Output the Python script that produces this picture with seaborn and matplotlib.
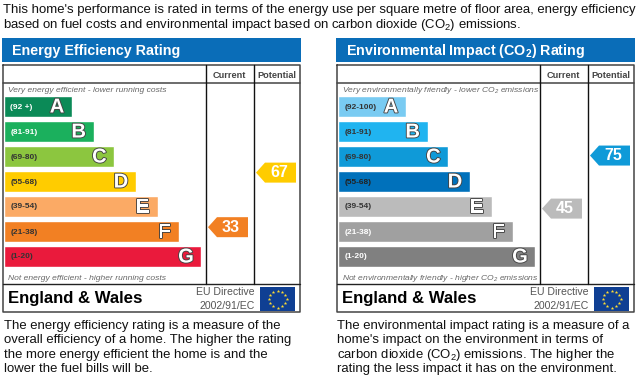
import numpy as np
import pandas as pd
import matplotlib
matplotlib.use("Agg")
import matplotlib.pyplot as plt
import matplotlib.patheffects as pe
import seaborn as sns

sns.set_theme(style="white")
plt.rcParams['font.family'] = ['Liberation Sans', 'DejaVu Sans']
plt.rcParams['mathtext.fontset'] = 'custom'
plt.rcParams['mathtext.rm'] = 'Liberation Sans'
plt.rcParams['mathtext.bf'] = 'Liberation Sans:bold'
plt.rcParams['mathtext.it'] = 'Liberation Sans:italic'
plt.rcParams['mathtext.default'] = 'regular'

letters = ["A", "B", "C", "D", "E", "F", "G"]
bar_length = [34.5, 45.5, 56, 67, 78, 89, 100]

energy_bands = ["(92 +)", "(81-91)", "(69-80)", "(55-68)", "(39-54)", "(21-38)", "(1-20)"]
energy_low = [92, 81, 69, 55, 39, 21, 1]
energy_high = [100, 91, 80, 68, 54, 38, 20]
energy_colors = ["#0b8a57", "#1bb05d", "#8cc63f", "#ffcc00", "#fbaa65", "#f28023", "#ea1a3c"]
energy_label_colors = ["white", "white", "#333333", "#333333", "#333333", "#333333", "#333333"]
energy_current = 33
energy_potential = 67

env_bands = ["(92-100)", "(81-91)", "(69-80)", "(55-68)", "(39-54)", "(21-38)", "(1-20)"]
env_low = [92, 81, 69, 55, 39, 21, 1]
env_high = [100, 91, 80, 68, 54, 38, 20]
env_colors = ["#79cbf2", "#20b4f0", "#0f9ad8", "#0071bb", "#bbbbbb", "#a0a0a0", "#808080"]
env_label_colors = ["#333333", "#333333", "#333333", "#222222", "#333333", "white", "white"]
env_current = 45
env_potential = 75

top_text = ["This home's performance is rated in terms of the energy use per square metre of floor area, energy efficiency",
            "based on fuel costs and environmental impact based on carbon dioxide (CO$_2$) emissions."]
energy_text = ["The energy efficiency rating is a measure of the",
               "overall efficiency of a home. The higher the rating",
               "the more energy efficient the home is and the",
               "lower the fuel bills will be."]
env_text = ["The environmental impact rating is a measure of a",
            "home's impact on the environment in terms of",
            "carbon dioxide (CO$_2$) emissions. The higher the",
            "rating the less impact it has on the environment."]

W, H = 640, 382
fig = plt.figure(figsize=(6.4, 3.82), dpi=100)
bg = fig.add_axes([0, 0, 1, 1])
bg.set_xlim(0, W)
bg.set_ylim(H, 0)
bg.axis("off")


def draw_panel(x0, title, bands, low, high, colors, label_colors, current, potential, very, nots, body, body_x):
    # header strip and the table frame
    bg.fill([x0 - 1, x0 + 298, x0 + 298, x0 - 1], [38, 38, 62, 62], color="#0a6db8", lw=0)
    bg.text(x0 + 9, 55, title, color="white", fontsize=10.3, fontweight="bold")
    frame = "#444444"
    bg.plot([x0, x0 + 297, x0 + 297, x0, x0], [65, 65, 312, 312, 65], color=frame, lw=1.1)
    bg.plot([x0, x0 + 297], [83, 83], color=frame, lw=1.1)
    bg.plot([x0, x0 + 297], [284, 284], color="#222222", lw=1.0)
    bg.plot([x0 + 203, x0 + 203], [65, 284], color="#111111", lw=1.0)
    bg.plot([x0 + 250.5, x0 + 250.5], [65, 284], color="#111111", lw=1.0)
    bg.text(x0 + 226.5, 78, "Current", color="#444444", fontsize=6.6, fontweight="bold", ha="center")
    bg.text(x0 + 274, 78, "Potential", color="#444444", fontsize=6.6, fontweight="bold", ha="center")
    bg.text(x0 + 5, 92.5, very, color="#666666", fontsize=6.1, style="italic")
    bg.text(x0 + 5, 279.5, nots, color="#666666", fontsize=6.1, style="italic")

    # rating bars
    ax = fig.add_axes([(x0 + 1) / W, 1 - 269 / H, 197 / W, 175 / H])
    df = pd.DataFrame({"band": bands, "length": bar_length})
    sns.barplot(data=df, x="length", y="band", hue="band", palette=colors, legend=False,
                width=0.84, saturation=1, orient="h", ax=ax)
    ax.set_xlim(0, 100)
    ax.set_ylim(6.5, -0.5)
    ax.axis("off")
    ax.patch.set_alpha(0)
    for i, band in enumerate(bands):
        ax.text(3.2, i + 0.02, band, color=label_colors[i], fontsize=6, fontweight="bold", va="center")
        ax.text(bar_length[i] - 7.6, i + 0.02, letters[i], color="white", fontsize=14.5, fontweight="bold",
                ha="center", va="center",
                path_effects=[pe.withStroke(linewidth=1.3, foreground="#444444")])

    # pointers sit inside the band the rating falls in
    for score, tip in ((current, x0 + 205), (potential, x0 + 253)):
        i = next(k for k in range(7) if low[k] <= score <= high[k])
        frac = (score - low[i]) / (high[i] - low[i])
        yc = 106.5 + 25 * (i + 0.42 - 0.84 * frac)
        bg.fill([tip, tip + 9, tip + 40, tip + 40, tip + 9], [yc, yc - 10, yc - 10, yc + 10, yc + 10],
                color=colors[i], lw=0)
        bg.text(tip + 23, yc + 0.3, str(score), color="white", fontsize=11.5, fontweight="bold",
                ha="center", va="center")

    # footer
    bg.text(x0 + 5, 303, "England & Wales", color="black", fontsize=12.05, fontweight="bold")
    bg.text(x0 + 252, 295, "EU Directive", color="#555555", fontsize=7.6, ha="right")
    bg.text(x0 + 252, 309, "2002/91/EC", color="#555555", fontsize=7.6, ha="right")
    bg.fill([x0 + 257, x0 + 292, x0 + 292, x0 + 257], [287, 287, 311, 311], color="#0f3f93", lw=0)
    ang = np.arange(12) * np.pi / 6
    bg.scatter(x0 + 274.5 + 9 * np.cos(ang), 299 + 8.5 * np.sin(ang), marker="*", s=7, color="#ffdd33", lw=0)

    for i, line in enumerate(body):
        bg.text(body_x, [329, 343.5, 358, 372][i], line, color="#111111", fontsize=9.47)


for i, line in enumerate(top_text):
    bg.text(3, [13, 28][i], line, color="#111111", fontsize=9.47)

draw_panel(3, "Energy Efficiency Rating", energy_bands, energy_low, energy_high, energy_colors,
           energy_label_colors, energy_current, energy_potential,
           "Very energy efficient - lower running costs", "Not energy efficient - higher running costs",
           energy_text, 4)
draw_panel(337, "Environmental Impact (CO$_2$) Rating", env_bands, env_low, env_high, env_colors,
           env_label_colors, env_current, env_potential,
           "Very environmentally friendly - lower CO$_2$ emissions",
           "Not environmentally friendly - higher CO$_2$ emissions", env_text, 337)

fig.savefig("out.png", dpi=100)
